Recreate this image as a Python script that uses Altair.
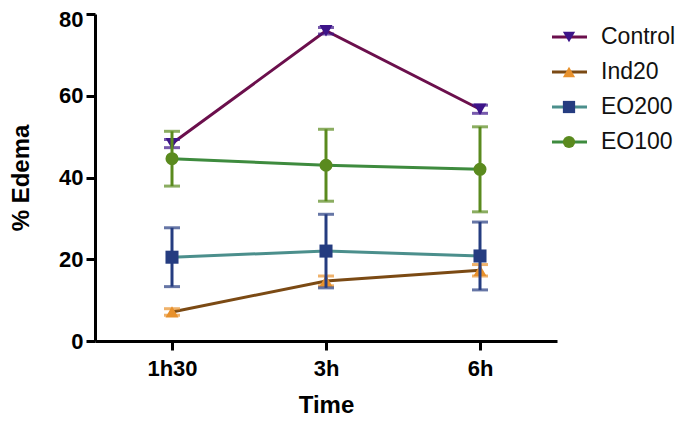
import altair as alt
import pandas as pd

times = ["1h30", "3h", "6h"]
series = ["Control", "Ind20", "EO200", "EO100"]

control_mean = [48.3, 75.9, 56.7]
control_err = [1.0, 0.8, 1.0]
ind20_mean = [7.1, 14.7, 17.3]
ind20_err = [0.8, 1.2, 1.4]
eo200_mean = [20.5, 22.0, 20.8]
eo200_err = [7.2, 9.0, 8.3]
eo100_mean = [44.6, 43.0, 42.0]
eo100_err = [6.7, 8.8, 10.4]

means = [control_mean, ind20_mean, eo200_mean, eo100_mean]
errs = [control_err, ind20_err, eo200_err, eo100_err]

line_colors = ["#6b0f4c", "#7b4a14", "#4b8f8c", "#3e8b3e"]
marker_colors = ["#3d1489", "#e8912c", "#253c80", "#5a8a1e"]
err_colors = ["#3d1489", "#e8912c", "#253c80", "#5a8a1e"]
shapes = ["triangle-down", "triangle-up", "square", "circle"]

FONT = "Liberation Sans"

x_enc = alt.X("time:O", sort=times,
              scale=alt.Scale(type="point", padding=0.5),
              axis=alt.Axis(title="Time", labelAngle=0))
y_scale = alt.Scale(domain=[0, 80], nice=False, zero=True)

layers = []
for i, s in enumerate(series):
    df = pd.DataFrame({
        "time": times,
        "mean": means[i],
        "lo": [m - e for m, e in zip(means[i], errs[i])],
        "hi": [m + e for m, e in zip(means[i], errs[i])],
    })
    base = alt.Chart(df).encode(x=x_enc)
    line = base.mark_line(strokeWidth=3, color=line_colors[i]).encode(
        y=alt.Y("mean:Q", scale=y_scale,
                axis=alt.Axis(title="% Edema", values=[0, 20, 40, 60, 80],
                              labelOffset={"condition": {"test": "datum.value == 80", "value": 5},
                                           "value": 0}))
    )
    rule = base.mark_rule(strokeWidth=3, color=err_colors[i]).encode(
        y=alt.Y("lo:Q", scale=y_scale), y2="hi:Q"
    )
    cap_lo = base.mark_tick(size=16, thickness=3, color=err_colors[i]).encode(
        y=alt.Y("lo:Q", scale=y_scale)
    )
    cap_hi = base.mark_tick(size=16, thickness=3, color=err_colors[i]).encode(
        y=alt.Y("hi:Q", scale=y_scale)
    )
    pts = base.mark_point(filled=True, opacity=1, size=170, shape=shapes[i],
                          color=marker_colors[i]).encode(
        y=alt.Y("mean:Q", scale=y_scale)
    )
    layers += [line, rule, cap_lo, cap_hi, pts]

main = alt.layer(*layers)

leg_df = pd.DataFrame({"series": series})
leg_y = alt.Y("series:N", sort=series,
              scale=alt.Scale(type="point", domain=series, range=[23, 128], padding=0),
              axis=None)
leg_base = alt.Chart(leg_df).encode(y=leg_y)
leg_line = leg_base.mark_rule(strokeWidth=3).encode(
    x=alt.value(457), x2=alt.value(492),
    stroke=alt.Stroke("series:N", scale=alt.Scale(domain=series, range=line_colors), legend=None),
)
leg_pts = leg_base.mark_point(filled=True, opacity=1, size=150).encode(
    x=alt.value(474),
    fill=alt.Fill("series:N", scale=alt.Scale(domain=series, range=marker_colors), legend=None),
    shape=alt.Shape("series:N", scale=alt.Scale(domain=series, range=shapes), legend=None),
)
leg_text = leg_base.mark_text(align="left", baseline="middle", fontSize=23,
                              font=FONT, color="#111111").encode(
    x=alt.value(506), text="series:N"
)
legend = alt.layer(leg_line, leg_pts, leg_text)

chart = alt.layer(main, legend).resolve_scale(y="independent").properties(
    width=462, height=327,
    autosize=alt.AutoSizeParams(type="none"),
    padding={"left": 87, "top": 6, "right": 123, "bottom": 80},
).configure_view(stroke=None).configure_axis(
    domainColor="black", domainWidth=3, tickColor="black", tickWidth=3,
    tickSize=9, grid=False, labelFont=FONT, labelFontSize=22, labelFontWeight="bold",
    labelColor="black", titleFont=FONT, titleFontSize=24, titleFontWeight="bold",
    titleColor="black", labelPadding=3,
).configure_axisY(titlePadding=25).configure_axisX(titlePadding=14, labelPadding=8)

chart.save("out.html", embed_options={"renderer": "svg", "actions": False})
